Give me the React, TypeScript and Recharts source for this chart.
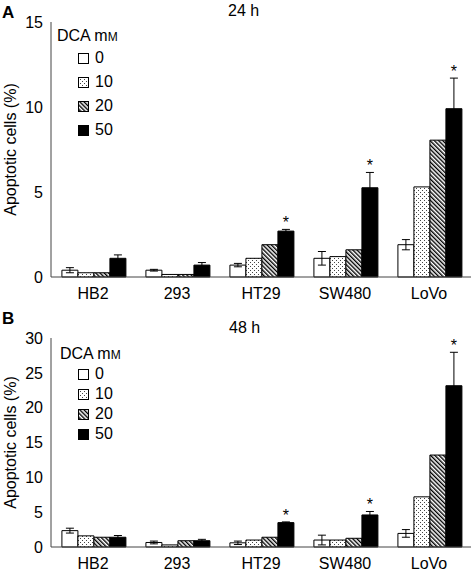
import React from 'react';
import { BarChart, Bar, XAxis, YAxis, ErrorBar, LabelList, Legend } from 'recharts';

const categories = ['HB2', '293', 'HT29', 'SW480', 'LoVo'];
const doses = ['0', '10', '20', '50'];

// 24 h
const d0_24 = [0.4, 0.4, 0.7, 1.1, 1.9];
const d10_24 = [0.25, 0.15, 1.1, 1.2, 5.3];
const d20_24 = [0.25, 0.15, 1.9, 1.6, 8.05];
const d50_24 = [1.1, 0.7, 2.7, 5.25, 9.9];
const e0_24 = [0.15, 0.05, 0.1, 0.4, 0.3];
const e50_24 = [0.2, 0.15, 0.1, 0.9, 1.8];
const star_24 = [false, false, true, true, true];
const ticks_24 = [0, 5, 10, 15];

// 48 h
const d0_48 = [2.35, 0.65, 0.6, 1.0, 1.95];
const d10_48 = [1.6, 0.3, 1.0, 1.0, 7.2];
const d20_48 = [1.4, 0.9, 1.4, 1.25, 13.2];
const d50_48 = [1.4, 0.9, 3.5, 4.6, 23.15];
const e0_48 = [0.35, 0.2, 0.25, 0.7, 0.55];
const e50_48 = [0.25, 0.2, 0.1, 0.5, 4.8];
const star_48 = [false, false, true, true, true];
const ticks_48 = [0, 5, 10, 15, 20, 25, 30];

const FONT = '"Liberation Sans", Arial, Helvetica, sans-serif';
const AXIS = '#444';

const build = (a0: number[], a10: number[], a20: number[], a50: number[], e0: number[], e50: number[], st: boolean[]) =>
  categories.map((c, i) => ({ name: c, v0: a0[i], v10: a10[i], v20: a20[i], v50: a50[i], e0: e0[i], e50: e50[i], star: st[i] }));

const rows24 = build(d0_24, d10_24, d20_24, d50_24, e0_24, e50_24, star_24);
const rows48 = build(d0_48, d10_48, d20_48, d50_48, e0_48, e50_48, star_48);

const Patterns = ({ p }: { p: string }) => (
  <defs>
    <pattern id={`${p}-dots`} width="4" height="4" patternUnits="userSpaceOnUse">
      <rect width="4" height="4" fill="#fff" />
      <rect x="0" y="0" width="1" height="1" fill="#444" />
      <rect x="2" y="2" width="1" height="1" fill="#444" />
    </pattern>
    <pattern id={`${p}-hatch`} width="3" height="3" patternUnits="userSpaceOnUse" patternTransform="rotate(-45)">
      <rect width="3" height="3" fill="#fff" />
      <rect x="0" y="0" width="1.4" height="3" fill="#000" />
    </pattern>
  </defs>
);

const fills = (p: string) => ['#fff', `url(#${p}-dots)`, `url(#${p}-hatch)`, '#000'];

const makeStar = (rows: any[]) => (props: any) => {
  const { x, y, width, height, value, index } = props;
  const r = rows[index];
  if (!r || !r.star) return null;
  const errPx = value ? (r.e50 * Math.abs(height)) / value : 0;
  return (
    <text x={x + width / 2} y={y - errPx - 1} textAnchor="middle" fontSize={16} fontFamily={FONT} fill="#000">
      *
    </text>
  );
};

const makeLegend = (p: string, titleH: number, rowH: number, left: number) => () => (
  <div style={{ fontFamily: FONT, fontSize: 16, color: '#000', textAlign: 'left' }}>
    <div style={{ height: titleH, lineHeight: `${titleH}px`, marginLeft: left - 57 }}>
      DCA m<span style={{ fontSize: 12 }}>M</span>
    </div>
    {doses.map((d, i) => (
      <div key={d} style={{ height: rowH, display: 'flex', alignItems: 'center', marginLeft: 21 }}>
        <svg width={11} height={11} style={{ marginRight: 6 }}>
          <rect x={0.5} y={0.5} width={10} height={10} fill={fills(p)[i]} stroke="#000" strokeWidth={1} />
        </svg>
        <span style={{ lineHeight: `${rowH}px` }}>{d}</span>
      </div>
    ))}
  </div>
);

type PanelProps = {
  p: string;
  rows: any[];
  height: number;
  top: number;
  plotH: number;
  max: number;
  ticks: number[];
  legendTop: number;
  titleH: number;
  rowH: number;
  legendLeft: number;
};

const Panel = ({ p, rows, height, top, plotH, max, ticks, legendTop, titleH, rowH, legendLeft }: PanelProps) => {
  const f = fills(p);
  return (
    <BarChart
      width={472}
      height={height}
      data={rows}
      margin={{ top, right: 1, left: 0, bottom: 0 }}
      barCategoryGap="13%"
      barGap={0}
    >
      <Patterns p={p} />
      <XAxis
        dataKey="name"
        tickLine={false}
        tickSize={0}
        tickMargin={11}
        stroke={AXIS}
        tick={{ fill: '#000', fontSize: 16, fontFamily: FONT }}
        height={height - top - plotH}
        interval={0}
      />
      <YAxis
        domain={[0, max]}
        ticks={ticks}
        width={51}
        tickLine={false}
        tickSize={0}
        tickMargin={8}
        stroke={AXIS}
        interval={0}
        tick={{ fill: '#000', fontSize: 16, fontFamily: FONT }}
        label={{
          value: 'Apoptotic cells (%)',
          angle: -90,
          position: 'insideLeft',
          offset: 10,
          style: { textAnchor: 'middle', fontSize: 16, fontFamily: FONT, fill: '#000' },
        }}
      />
      <Legend
        layout="horizontal"
        verticalAlign="middle"
        align="center"
        wrapperStyle={{ top: legendTop, left: 57, width: 'auto' }}
        content={makeLegend(p, titleH, rowH, legendLeft)}
      />
      <Bar dataKey="v0" fill={f[0]} stroke="#000" strokeWidth={1} isAnimationActive={false}>
        <ErrorBar dataKey="e0" width={4} stroke="#000" strokeWidth={1} direction="y" />
      </Bar>
      <Bar dataKey="v10" fill={f[1]} stroke="#000" strokeWidth={1} isAnimationActive={false} />
      <Bar dataKey="v20" fill={f[2]} stroke="#000" strokeWidth={1} isAnimationActive={false} />
      <Bar dataKey="v50" fill={f[3]} stroke="#000" strokeWidth={1} isAnimationActive={false}>
        <ErrorBar dataKey="e50" width={4} stroke="#000" strokeWidth={1} direction="y" />
        <LabelList dataKey="v50" content={makeStar(rows)} />
      </Bar>
    </BarChart>
  );
};

export default function App() {
  return (
    <div style={{ position: 'absolute', left: 0, top: 0, width: 472, height: 572, background: '#fff', fontFamily: FONT }}>
      <div style={{ position: 'absolute', left: 0, top: 0 }}>
        <Panel p="a" rows={rows24} height={310} top={22} plotH={255} max={15} ticks={ticks_24} legendTop={26} titleH={20} rowH={24} legendLeft={57} />
      </div>
      <div style={{ position: 'absolute', left: 0, top: 310 }}>
        <Panel p="b" rows={rows48} height={262} top={28} plotH={209} max={30} ticks={ticks_48} legendTop={33} titleH={21} rowH={20} legendLeft={60} />
      </div>
      <svg width={472} height={572} style={{ position: 'absolute', left: 0, top: 0, pointerEvents: 'none' }}>
        <text x={2} y={18} fontSize={17} fontWeight="bold" fontFamily={FONT} fill="#000">A</text>
        <text x={228} y={16} fontSize={16} fontFamily={FONT} fill="#000">24 h</text>
        <text x={2} y={324} fontSize={17} fontWeight="bold" fontFamily={FONT} fill="#000">B</text>
        <text x={229} y={333} fontSize={16} fontFamily={FONT} fill="#000">48 h</text>
      </svg>
    </div>
  );
}
